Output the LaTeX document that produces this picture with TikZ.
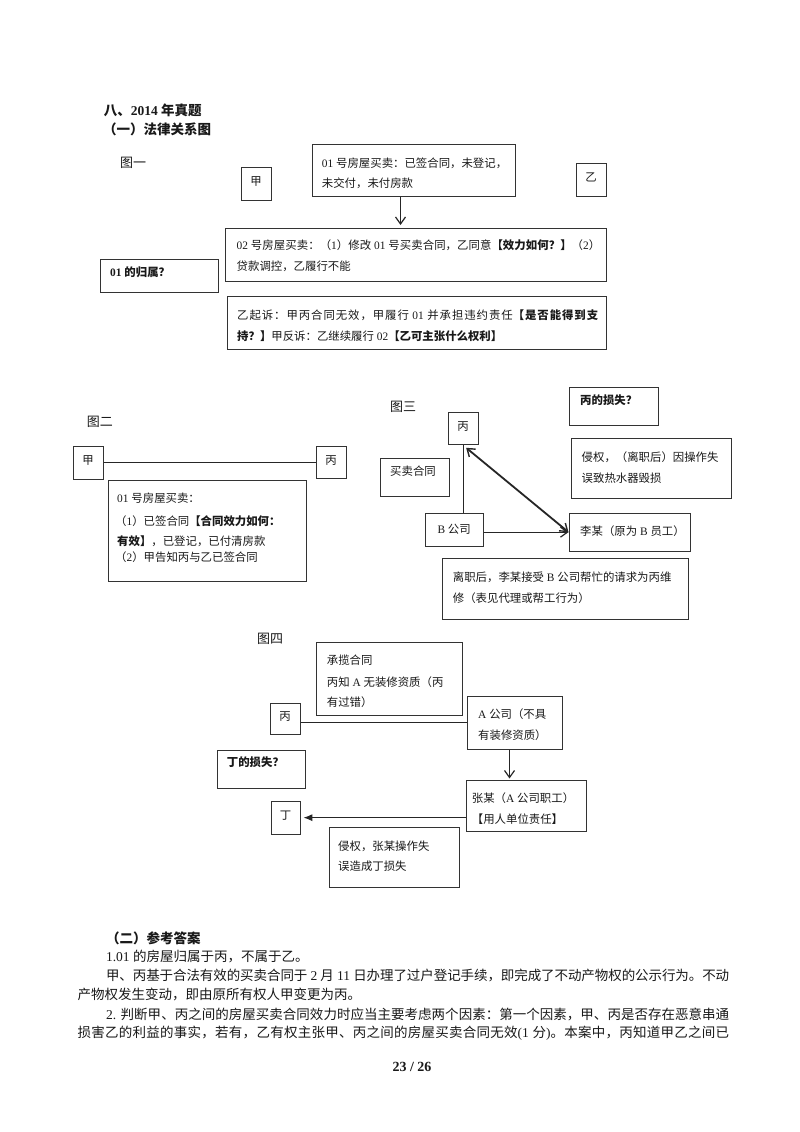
\documentclass[tikz,border=0pt]{standalone}
\usepackage{fontspec}
\setmainfont{Liberation Serif}
\newfontfamily\cjkfont{Noto Sans CJK SC}
\newfontfamily\latfont{Liberation Serif}
\usetikzlibrary{arrows.meta}
\newcount\mycnt
\newXeTeXintercharclass\cjkcls
\def\setcls#1#2{\mycnt=#1\relax\loop\XeTeXcharclass\mycnt=\cjkcls\advance\mycnt by 1\relax\ifnum\mycnt<#2\relax\repeat}
\setcls{"3000}{"3040}
\setcls{"4E00}{"A000}
\setcls{"FF00}{"FFF0}
\XeTeXinterchartoks 0 \cjkcls = {\cjkfont}
\XeTeXinterchartoks 4095 \cjkcls = {\cjkfont}
\XeTeXinterchartoks \cjkcls 0 = {\latfont}
\XeTeXinterchartoks \cjkcls 4095 = {\latfont}
\XeTeXinterchartoks \cjkcls \cjkcls = {\hskip 0pt plus 2pt minus 0.4pt\relax}
\XeTeXinterchartokenstate=1
\tikzset{
  bx/.style={draw=black!80, line width=1.3pt, inner sep=0pt, anchor=north west},
  bxc/.style={bx, font=\fontsize{11.4}{13}\selectfont, text=black!90, text height=10pt, text depth=6pt},
  bxd/.style={bx, font=\fontsize{11.4}{13}\selectfont, text=black!90, text height=10pt, text depth=1.4pt},
  tb/.style={inner sep=0pt, anchor=west, font=\fontsize{11.4}{13}\selectfont, text=black!90, text height=10pt, text depth=1.4pt},
  tbb/.style={tb, font=\fontsize{11.4}{13}\selectfont\bfseries},
  tl/.style={inner sep=0pt, anchor=west, font=\fontsize{13}{15}\selectfont, text=black!90, text height=11.4pt, text depth=1.6pt},
  tp/.style={inner sep=0pt, anchor=west, font=\fontsize{13.5}{16}\selectfont, text=black!90, text height=11.9pt, text depth=1.6pt},
  tt/.style={tp, font=\fontsize{13.5}{16}\selectfont\bfseries},
  ln/.style={draw=black!85, line width=1.2pt},
  av/.style={ln, -{Straight Barb[length=7pt,width=10pt,line width=1.2pt]}},
}
\begin{document}
\begin{tikzpicture}[x=1pt,y=-1pt]
\useasboundingbox (0,0) rectangle (800,1132);
\fill[white] (0,0) rectangle (800,1132);

% titles
\node[tt] (title) at (103.6,110.5) {八、2014 年真题};
\node[tt] (sub1) at (103,129) {（一）法律关系图};

% figure 1
\node[tl] (lab1) at (120,162.5) {图一};
\node[bxc, minimum width=30pt, minimum height=33pt] (jia1) at (240.5,166.5) {甲};
\node[bx, minimum width=203pt, minimum height=52pt] (b01) at (311.5,143.5) {};
\node[tb] (b01a) at (321.7,163.3) {01 号房屋买卖：已签合同，未登记，};
\node[tb] (b01b) at (321.7,183.3) {未交付，未付房款};
\node[bxc, minimum width=30pt, minimum height=33pt] (yi1) at (575.5,162.5) {乙};
\node[bx, minimum width=381pt, minimum height=53pt] (b02) at (224.5,227.5) {};
\node[tb] (b02a) at (236.5,245.5) {\makebox[363.5pt][s]{02 号房屋买卖：（1）修改 01 号买卖合同，乙同意\textbf{【效力如何？】}（2）}};
\node[tb] (b02b) at (236.5,266) {贷款调控，乙履行不能};
\node[bx, minimum width=118pt, minimum height=33pt] (own) at (99.5,258.5) {};
\node[tbb] (owna) at (110,272) {01 的归属？};
\node[bx, minimum width=379pt, minimum height=53pt] (sue) at (226.5,295.5) {};
\node[tb] (suea) at (237,315) {\makebox[361pt][s]{乙起诉：甲丙合同无效，甲履行 01 并承担违约责任\textbf{【是否能得到支}}};
\node[tb] (sueb) at (237,336) {\textbf{持？】}甲反诉：乙继续履行 02\textbf{【乙可主张什么权利】}};
\coordinate (ax1) at (400.5,0);
\draw[av, shorten >=2.5pt] (b01.south -| ax1) -- (b02.north -| ax1);

% figure 2
\node[tl] (lab2) at (86.7,422) {图二};
\node[bxc, minimum width=30pt, minimum height=33pt] (jia2) at (72.5,445.5) {甲};
\node[bxc, minimum width=30pt, minimum height=32pt] (bing2) at (315.5,445.5) {丙};
\draw[ln, line width=1pt] (jia2.east) -- (jia2.east -| bing2.west);
\node[bx, minimum width=198pt, minimum height=101pt] (b2) at (107.5,479.5) {};
\node[tb] (b2a) at (117,498) {01 号房屋买卖：};
\node[tb] (b2b) at (115,521) {（1）已签合同\textbf{【合同效力如何：}};
\node[tb] (b2c) at (117,541) {\textbf{有效】}，已登记，已付清房款};
\node[tb] (b2d) at (115,557) {（2）甲告知丙与乙已签合同};

% figure 3
\node[tl] (lab3) at (390,407) {图三};
\node[bx, minimum width=89pt, minimum height=38pt] (loss3) at (568.5,386.5) {};
\node[tbb] (loss3a) at (580,400) {丙的损失？};
\node[bxc, minimum width=30pt, minimum height=32pt] (bing3) at (447.5,411.5) {丙};
\node[bx, minimum width=160pt, minimum height=60pt] (tort3) at (570.5,437.5) {};
\node[tb] (tort3a) at (581.5,457) {侵权，（离职后）因操作失};
\node[tb] (tort3b) at (581.5,478) {误致热水器毁损};
\node[bx, minimum width=69pt, minimum height=38pt] (sale3) at (379.5,457.5) {};
\node[tb] (sale3a) at (390,471) {买卖合同};
\node[bxd, minimum width=58pt, minimum height=33pt] (bco3) at (424.5,512.5) {B 公司};
\node[bx, minimum width=121pt, minimum height=38pt] (li3) at (568.5,512.5) {};
\node[tb] (li3a) at (580,531.5) {李某（原为 B 员工）};
\node[bx, minimum width=246pt, minimum height=61pt] (leave3) at (441.5,557.5) {};
\node[tb] (leave3a) at (452.7,577) {离职后，李某接受 B 公司帮忙的请求为丙维};
\node[tb] (leave3b) at (452.7,598) {修（表见代理或帮工行为）};
\draw[ln, line width=1pt] (bing3.south) -- (bing3.south |- bco3.north);
\draw[av] (li3.west -| bco3.east) -- (li3.west);
\coordinate (d3) at ([xshift=3pt,yshift=-3pt]bing3.south);
\draw[ln, line width=1.8pt, {Straight Barb[length=7pt,width=10pt,line width=1.4pt]}-{Straight Barb[length=7pt,width=10pt,line width=1.4pt]}] (d3) -- (li3.west);

% figure 4
\node[tl] (lab4) at (257,639) {图四};
\node[bx, minimum width=146pt, minimum height=73pt] (con4) at (315.5,641.5) {};
\node[tb] (con4a) at (326.7,660) {承揽合同};
\node[tb] (con4b) at (326.7,681.7) {丙知 A 无装修资质（丙};
\node[tb] (con4c) at (326.7,701.7) {有过错）};
\node[bxc, minimum width=30pt, minimum height=31pt] (bing4) at (269.5,702.5) {丙};
\node[bx, minimum width=95pt, minimum height=53pt] (a4) at (466.5,695.5) {};
\node[tb] (a4a) at (478,714) {A 公司（不具};
\node[tb] (a4b) at (478,735) {有装修资质）};
\draw[ln, line width=1pt] (a4.west -| bing4.east) -- (a4.west);
\node[bx, minimum width=120pt, minimum height=51pt] (z4) at (465.5,779.5) {};
\node[tb] (z4a) at (471.7,798) {张某（A 公司职工）};
\node[tb] (z4b) at (471.7,819) {【用人单位责任】};
\coordinate (ax4) at (509.5,0);
\draw[av, shorten >=1pt] (a4.south -| ax4) -- (z4.north -| ax4);
\node[bx, minimum width=88pt, minimum height=38pt] (loss4) at (216.5,749.5) {};
\node[tbb] (loss4a) at (226.7,762.5) {丁的损失？};
\node[bxc, minimum width=29pt, minimum height=33pt] (ding4) at (270.5,800.5) {丁};
\draw[ln, -{Latex[length=9pt,width=7pt]}, shorten >=2.5pt] (z4.west |- ding4.east) -- (ding4.east);
\node[bx, minimum width=130pt, minimum height=60pt] (tort4) at (328.5,826.5) {};
\node[tb] (tort4a) at (338,845.7) {侵权，张某操作失};
\node[tb] (tort4b) at (338,865.7) {误造成丁损失};

% answer text
\node[tt] (sec2) at (106,938.3) {（二）参考答案};
\node[tp] (p1) at (105.8,956.7) {1.01 的房屋归属于丙，不属于乙。};
\node[tp] (p2) at (105.8,975) {\makebox[623.2pt][s]{甲、丙基于合法有效的买卖合同于 2 月 11 日办理了过户登记手续，即完成了不动产物权的公示行为。不动}};
\node[tp] (p3) at (77.4,994.3) {产物权发生变动，即由原所有权人甲变更为丙。};
\node[tp] (p4) at (105.8,1014) {\makebox[623.2pt][s]{2. 判断甲、丙之间的房屋买卖合同效力时应当主要考虑两个因素：第一个因素，甲、丙是否存在恶意串通}};
\node[tp] (p5) at (77.4,1032.7) {\makebox[651.6pt][s]{损害乙的利益的事实，若有，乙有权主张甲、丙之间的房屋买卖合同无效(1 分)。本案中，丙知道甲乙之间已}};
\node[inner sep=0pt, font=\fontsize{14}{16}\selectfont\bfseries, text=black!90] (pg) at (412,1066.7) {23 / 26};
\end{tikzpicture}
\end{document}
